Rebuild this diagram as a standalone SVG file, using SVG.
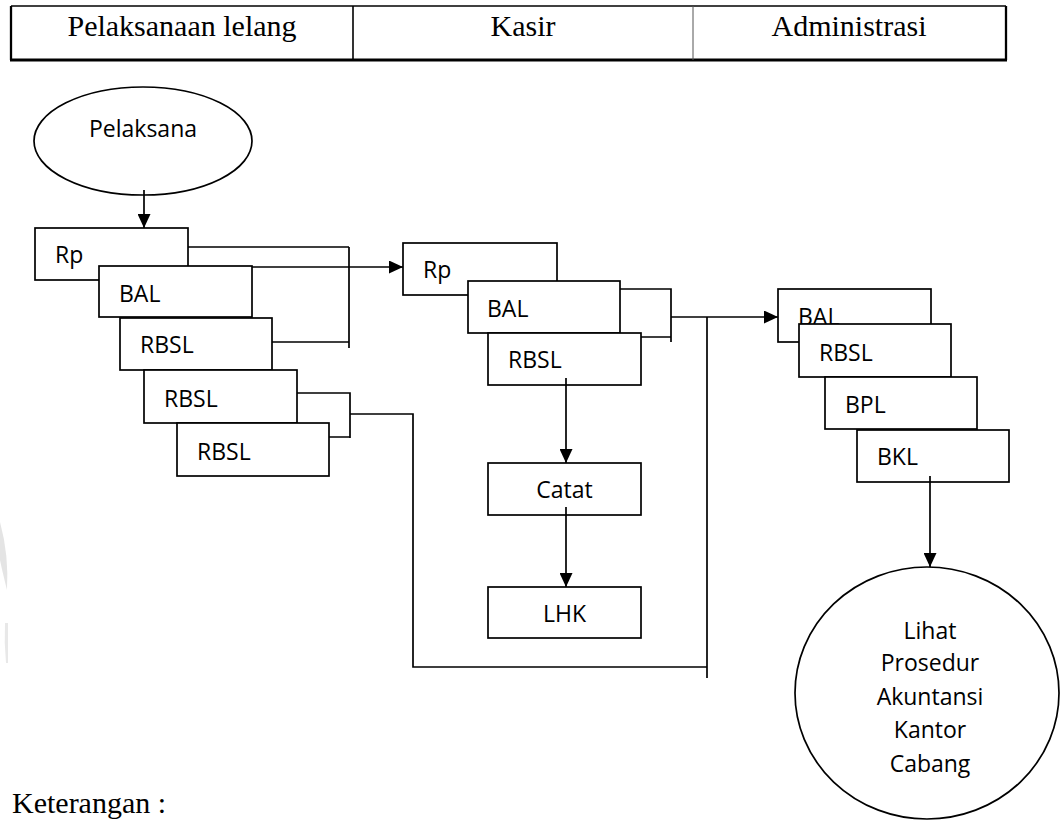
<svg xmlns="http://www.w3.org/2000/svg" width="1060" height="823" viewBox="0 0 1060 823">
  <defs>
    <style>
      .box { fill: #fff; stroke: #000; stroke-width: 1.7; }
      .lbl { font-family: "Open Sans", "Liberation Sans", sans-serif; font-size: 23px; fill: #000; }
      .hdr { font-family: "Liberation Serif", "Times New Roman", serif; font-size: 30px; fill: #000; }
      .ln { fill: none; stroke: #000; stroke-width: 1.7; }
      .arr { fill: none; stroke: #000; stroke-width: 1.7; marker-end: url(#ah); }
    </style>
    <marker id="ah" viewBox="0 0 14 13" refX="14" refY="6.5" markerWidth="14" markerHeight="13" markerUnits="userSpaceOnUse" orient="auto">
      <path d="M0,0 L14,6.5 L0,13 Z" fill="#000"/>
    </marker>
  </defs>
  <rect width="1060" height="823" fill="#fff"/>

  <!-- faint watermark fragments at left edge -->
  <path d="M0,522 Q9,555 7,590 Q2,570 0,560 Z" fill="#e4e4e4"/>
  <path d="M5,623 L8,623 L8,663 L6,663 Q4,643 5,623 Z" fill="#e8e8e8"/>

  <!-- header table -->
  <g id="header">
    <line x1="11" y1="6" x2="1006" y2="6" stroke="#000" stroke-width="1.3"/>
    <line x1="10" y1="60" x2="1007" y2="60" stroke="#000" stroke-width="2.8"/>
    <line x1="11" y1="6" x2="11" y2="60" stroke="#000" stroke-width="2.3"/>
    <line x1="1006" y1="6" x2="1006" y2="60" stroke="#000" stroke-width="2.3"/>
    <line x1="353" y1="6" x2="353" y2="60" stroke="#000" stroke-width="1.6"/>
    <line x1="693" y1="6" x2="693" y2="60" stroke="#555" stroke-width="1"/>
    <text class="hdr" x="182" y="36" text-anchor="middle">Pelaksanaan lelang</text>
    <text class="hdr" x="523" y="36" text-anchor="middle">Kasir</text>
    <text class="hdr" x="849" y="36" text-anchor="middle">Administrasi</text>
  </g>

  <!-- Pelaksanaan lelang lane -->
  <g id="pelaksana">
    <ellipse cx="143" cy="141" rx="109" ry="54" class="box"/>
    <text class="lbl" x="143" y="137" text-anchor="middle">Pelaksana</text>
  </g>
  <g id="p-rp"><rect class="box" x="35" y="228" width="153" height="52"/><text class="lbl" x="55" y="263">Rp</text></g>
  <g id="p-bal"><rect class="box" x="99" y="266" width="153" height="51"/><text class="lbl" x="119" y="302">BAL</text></g>
  <g id="p-rbsl1"><rect class="box" x="120" y="318" width="152" height="52"/><text class="lbl" x="140" y="353">RBSL</text></g>
  <g id="p-rbsl2"><rect class="box" x="144" y="370" width="153" height="53"/><text class="lbl" x="164" y="407">RBSL</text></g>
  <g id="p-rbsl3"><rect class="box" x="177" y="423" width="152" height="53"/><text class="lbl" x="197" y="460">RBSL</text></g>

  <!-- Kasir lane -->
  <g id="k-rp"><rect class="box" x="403" y="243" width="154" height="52"/><text class="lbl" x="423" y="278">Rp</text></g>
  <g id="k-bal"><rect class="box" x="468" y="281" width="152" height="52"/><text class="lbl" x="487" y="317">BAL</text></g>
  <g id="k-rbsl"><rect class="box" x="488" y="333" width="153" height="52"/><text class="lbl" x="508" y="368">RBSL</text></g>
  <g id="k-catat"><rect class="box" x="488" y="463" width="153" height="52"/><text class="lbl" x="564.5" y="498" text-anchor="middle">Catat</text></g>
  <g id="k-lhk"><rect class="box" x="488" y="587" width="153" height="51"/><text class="lbl" x="564.5" y="622" text-anchor="middle">LHK</text></g>

  <!-- Administrasi lane -->
  <g id="a-bal"><rect class="box" x="778" y="289" width="153" height="53"/><text class="lbl" x="798" y="325">BAL</text></g>
  <g id="a-rbsl"><rect class="box" x="799" y="324" width="152" height="53"/><text class="lbl" x="819" y="361">RBSL</text></g>
  <g id="a-bpl"><rect class="box" x="825" y="377" width="152" height="52"/><text class="lbl" x="845" y="413">BPL</text></g>
  <g id="a-bkl"><rect class="box" x="857" y="430" width="152" height="52"/><text class="lbl" x="877" y="465">BKL</text></g>
  <g id="a-lihat">
    <ellipse cx="927" cy="693" rx="132" ry="126" class="box"/>
    <text class="lbl" x="930" y="639" text-anchor="middle">Lihat</text>
    <text class="lbl" x="930" y="671" text-anchor="middle">Prosedur</text>
    <text class="lbl" x="930" y="705" text-anchor="middle">Akuntansi</text>
    <text class="lbl" x="930" y="738" text-anchor="middle">Kantor</text>
    <text class="lbl" x="930" y="772" text-anchor="middle">Cabang</text>
  </g>

  <!-- connectors -->
  <g id="connectors">
    <path class="arr" d="M144,190 L144,228"/>
    <path class="ln" d="M188,247 L349,247 M349,247 L349,348 M272,342 L349,342"/>
    <path class="arr" d="M252,267 L403,267"/>
    <path class="ln" d="M297,393 L350,393 L350,438 M329,437 L350,437 M350,414 L413,414 L413,667 L707,667"/>
    <path class="ln" d="M620,289 L671,289 L671,342 M641,337 L671,337"/>
    <path class="arr" d="M671,317 L778,317"/>
    <path class="ln" d="M707,317 L707,678"/>
    <path class="arr" d="M566,378 L566,463"/>
    <path class="arr" d="M566,507 L566,587"/>
    <path class="arr" d="M930,476 L930,567"/>
  </g>

  <text class="hdr" x="12" y="813">Keterangan :</text>
</svg>
